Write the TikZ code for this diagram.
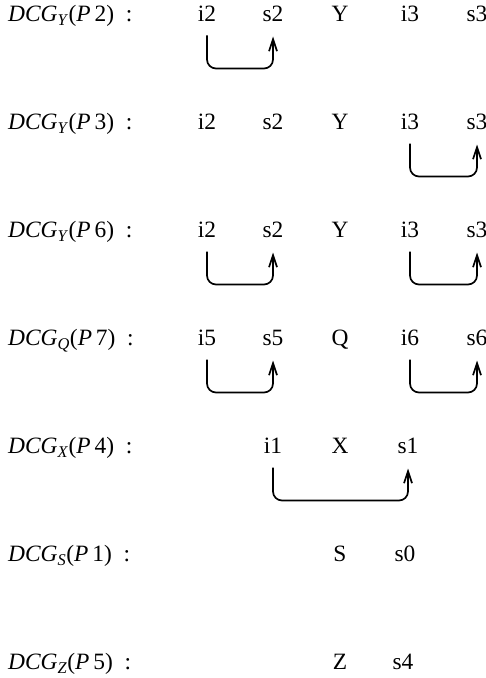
\documentclass[tikz,border=0pt]{standalone}
\usepackage{fontspec}
\setmainfont{Liberation Serif}
\usetikzlibrary{arrows.meta}
\begin{document}
\begin{tikzpicture}[x=1bp,y=-1bp,
  lbl/.style={anchor=base west,inner sep=0pt,font=\fontsize{23.5}{26}\selectfont},
  itm/.style={anchor=base,inner xsep=0pt,inner ysep=0pt,text depth=0pt,font=\fontsize{23.5}{26}\selectfont},
  link/.style={line width=1.7bp,rounded corners=9bp,-{Straight Barb[length=12bp,width=8bp,line width=1.7bp]}}]
\useasboundingbox (0,0) rectangle (486,678);
\newcommand{\dcg}[2]{\textit{DCG}\textsubscript{\textit{#1}}(\textit{P}\,#2)\ \ :}
% row baselines
\def\ra{21.5}\def\rb{129.5}\def\rc{237.5}\def\rd{345.5}\def\re{453.5}\def\rf{561.5}\def\rg{669.5}
% row 1
\node[lbl] (l1) at (8,\ra) {\dcg{Y}{2}};
\node[itm] (a1) at (207,\ra) {i2};
\node[itm] (a2) at (273,\ra) {s2};
\node[itm] (a3) at (340,\ra) {Y};
\node[itm] (a4) at (410,\ra) {i3};
\node[itm] (a5) at (477,\ra) {s3};
% row 2
\node[lbl] (l2) at (8,\rb) {\dcg{Y}{3}};
\node[itm] (b1) at (207,\rb) {i2};
\node[itm] (b2) at (273,\rb) {s2};
\node[itm] (b3) at (340,\rb) {Y};
\node[itm] (b4) at (410,\rb) {i3};
\node[itm] (b5) at (477,\rb) {s3};
% row 3
\node[lbl] (l3) at (8,\rc) {\dcg{Y}{6}};
\node[itm] (c1) at (207,\rc) {i2};
\node[itm] (c2) at (273,\rc) {s2};
\node[itm] (c3) at (340,\rc) {Y};
\node[itm] (c4) at (410,\rc) {i3};
\node[itm] (c5) at (477,\rc) {s3};
% row 4
\node[lbl] (l4) at (8,\rd) {\dcg{Q}{7}};
\node[itm] (d1) at (207,\rd) {i5};
\node[itm] (d2) at (273,\rd) {s5};
\node[itm] (d3) at (340,\rd) {Q};
\node[itm] (d4) at (410,\rd) {i6};
\node[itm] (d5) at (477,\rd) {s6};
% row 5
\node[lbl] (l5) at (8,\re) {\dcg{X}{4}};
\node[itm] (e1) at (273,\re) {i1};
\node[itm] (e2) at (340,\re) {X};
\node[itm] (e3) at (408,\re) {s1};
% row 6
\node[lbl] (l6) at (8,\rf) {\dcg{S}{1}};
\node[itm] (f1) at (340,\rf) {S};
\node[itm] (f2) at (405,\rf) {s0};
% row 7
\node[lbl] (l7) at (8,\rg) {\dcg{Z}{5}};
\node[itm] (g1) at (340,\rg) {Z};
\node[itm] (g2) at (403,\rg) {s4};
% connectors
\foreach \p/\q in {a1/a2,b4/b5,c1/c2,c4/c5,d1/d2,d4/d5,e1/e3}{
  \draw[link] ([yshift=-14bp]\p.base) -- ([yshift=-47bp]\p.base) -| ([yshift=-15bp]\q.base);
}
\end{tikzpicture}
\end{document}
